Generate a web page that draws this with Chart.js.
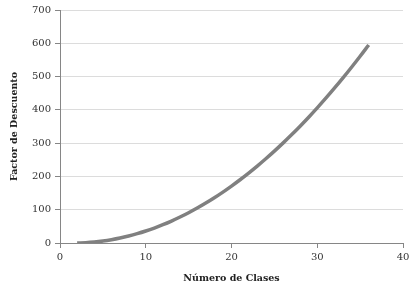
<!DOCTYPE html>
<html>
<head>
<meta charset="utf-8">
<script src="https://cdn.jsdelivr.net/npm/chart.js@4"></script>
<style>
  html, body { margin: 0; padding: 0; background: #fff; }
  #wrap { width: 417px; height: 286px; }
</style>
</head>
<body>
<div id="wrap"><canvas id="descuentoChart"></canvas></div>
<script>
// values
const numClases = [2, 3, 4, 5, 6, 7, 8, 9, 10, 11, 12, 13, 14, 15, 16, 17, 18, 19,
    20, 21, 22, 23, 24, 25, 26, 27, 28, 29, 30, 31, 32, 33, 34, 35, 36];
const factorDescuento = [0, 1, 3, 6, 10, 15, 21, 28, 36, 45, 55, 66, 78, 91, 105, 120, 136, 153,
    171, 190, 210, 231, 253, 276, 300, 325, 351, 378, 406, 435, 465, 496, 528, 561, 595];
const xTicks = [0, 10, 20, 30, 40];
const yTicks = [0, 100, 200, 300, 400, 500, 600, 700];

const serif = '"DejaVu Serif", "Liberation Serif", serif';

const ctx = document.getElementById('descuentoChart').getContext('2d');
const descuentoChart = new Chart(ctx, {
    type: 'line',
    data: {
        datasets: [{
            label: 'Factor de Descuento',
            data: numClases.map((n, i) => ({ x: n, y: factorDescuento[i] })),
            borderColor: '#808080',
            borderWidth: 3.5,
            pointRadius: 0,
            tension: 0.4,
            fill: false
        }]
    },
    options: {
        responsive: true,
        maintainAspectRatio: false,
        animation: false,
        layout: { padding: { top: 10, right: 14, left: 0, bottom: 0 } },
        scales: {
            x: {
                type: 'linear',
                min: 0,
                max: 40,
                afterBuildTicks: (scale) => { scale.ticks = xTicks.map(v => ({ value: v })); },
                afterFit: (scale) => { scale.height = 43; },
                ticks: { font: { family: serif, size: 10 }, color: '#333', padding: 3 },
                grid: { drawOnChartArea: false, drawTicks: true, tickLength: 5, color: '#868686' },
                border: { color: '#868686' },
                title: {
                    display: true,
                    text: 'Número de Clases',
                    font: { family: serif, size: 9.5, weight: 'bold' },
                    color: '#222',
                    padding: { top: 4, bottom: 2 }
                }
            },
            y: {
                min: 0,
                max: 700,
                afterBuildTicks: (scale) => { scale.ticks = yTicks.map(v => ({ value: v })); },
                afterFit: (scale) => { scale.width = 60; },
                ticks: { font: { family: serif, size: 10 }, color: '#333', padding: 4 },
                grid: { color: '#dcdcdc', tickColor: '#868686', tickLength: 5 },
                border: { color: '#868686' },
                title: {
                    display: true,
                    text: 'Factor de Descuento',
                    font: { family: serif, size: 9.5, weight: 'bold' },
                    color: '#222',
                    padding: { top: 9, bottom: 4 }
                }
            }
        },
        plugins: {
            legend: { display: false },
            tooltip: { enabled: false }
        }
    }
});
</script>
</body>
</html>
